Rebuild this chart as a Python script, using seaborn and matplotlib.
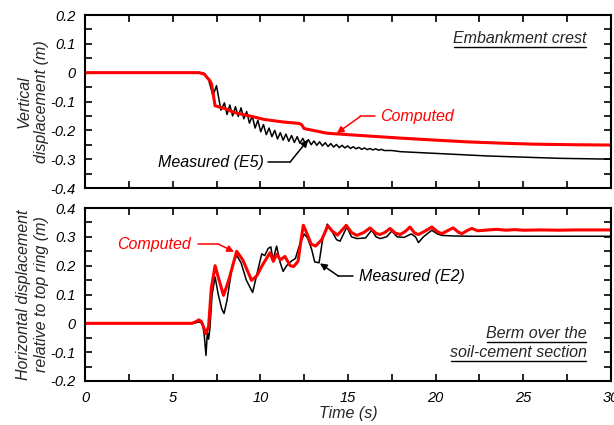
import numpy as np
import matplotlib
matplotlib.use("Agg")
import matplotlib.pyplot as plt
import seaborn as sns
from matplotlib.ticker import MultipleLocator, FuncFormatter

# ==========================================
# DATA
# ==========================================
# Top panel - vertical displacement, embankment crest
t_top_meas = [0.0, 6.7, 6.85, 7.05, 7.3, 7.5, 7.75, 7.95, 8.10, 8.26, 8.42, 8.58, 8.74, 8.90,
              9.06, 9.22, 9.38, 9.54, 9.70, 9.86, 10.02, 10.18, 10.34, 10.50, 10.66, 10.82,
              10.98, 11.14, 11.30, 11.46, 11.62, 11.78, 11.94, 12.10, 12.26, 12.42, 12.58,
              12.74, 12.90, 13.06, 13.22, 13.38, 13.54, 13.70, 13.86, 14.02, 14.18, 14.34,
              14.50, 14.66, 14.82, 14.98, 15.14, 15.30, 15.46, 15.62, 15.78, 15.94, 16.10,
              16.26, 16.42, 16.58, 16.74, 16.90, 17.06, 17.5, 18.0, 19.0, 20.0, 21.0, 22.0,
              23.0, 24.0, 25.0, 26.0, 27.0, 28.0, 29.0, 30.0]
v_top_meas = [0.0, 0.0, -0.005, -0.025, -0.08, -0.045, -0.13, -0.105, -0.145, -0.112, -0.150,
              -0.118, -0.152, -0.122, -0.160, -0.135, -0.175, -0.150, -0.192, -0.165, -0.205,
              -0.180, -0.215, -0.192, -0.222, -0.200, -0.230, -0.208, -0.234, -0.213, -0.238,
              -0.218, -0.242, -0.222, -0.245, -0.228, -0.247, -0.232, -0.250, -0.237, -0.252,
              -0.240, -0.254, -0.243, -0.256, -0.246, -0.258, -0.249, -0.260, -0.252, -0.261,
              -0.254, -0.263, -0.257, -0.264, -0.259, -0.266, -0.261, -0.267, -0.263, -0.268,
              -0.264, -0.269, -0.266, -0.270, -0.270, -0.274, -0.277, -0.280, -0.283, -0.286,
              -0.289, -0.291, -0.293, -0.295, -0.297, -0.298, -0.299, -0.300]

t_top_comp = [0.0, 6.5, 6.8, 7.15, 7.22, 7.42, 7.6, 8.0, 8.5, 9.0, 9.6, 10.2, 10.8, 11.3,
              12.2, 12.35, 12.5, 13.0, 13.8, 15.0, 16.0, 18.0, 20.0, 21.8, 24.0, 25.6, 28.0, 30.0]
v_top_comp = [0.0, 0.0, -0.005, -0.03, -0.04, -0.115, -0.118, -0.125, -0.138, -0.145, -0.153,
              -0.162, -0.167, -0.171, -0.176, -0.180, -0.194, -0.200, -0.210, -0.215, -0.219,
              -0.227, -0.234, -0.240, -0.245, -0.248, -0.250, -0.251]

# Bottom panel - horizontal displacement relative to top ring, berm
t_bot_meas = [0.0, 6.2, 6.5, 6.7, 6.8, 6.9, 6.98, 7.05, 7.12, 7.25, 7.42, 7.6, 7.8, 7.93, 8.1,
              8.4, 8.65, 8.9, 9.2, 9.56, 9.9, 10.08, 10.25, 10.45, 10.6, 10.72, 10.93, 11.12,
              11.3, 11.5, 11.75, 12.0, 12.2, 12.5, 12.7, 12.93, 13.1, 13.35, 13.55, 13.82,
              14.05, 14.35, 14.55, 14.93, 15.2, 15.5, 16.0, 16.35, 16.6, 16.83, 17.2, 17.5,
              17.8, 18.2, 18.6, 18.85, 19.02, 19.3, 19.78, 20.1, 20.35, 21.0, 22.0, 30.0]
v_bot_meas = [0.0, 0.0, 0.005, 0.0, -0.04, -0.111, -0.03, -0.055, -0.02, 0.10, 0.161, 0.10,
              0.05, 0.034, 0.08, 0.20, 0.236, 0.21, 0.15, 0.107, 0.195, 0.241, 0.235, 0.26,
              0.265, 0.22, 0.268, 0.213, 0.18, 0.20, 0.215, 0.225, 0.265, 0.31, 0.295, 0.256,
              0.213, 0.21, 0.29, 0.344, 0.323, 0.29, 0.285, 0.334, 0.30, 0.294, 0.296, 0.323,
              0.30, 0.294, 0.30, 0.32, 0.30, 0.298, 0.31, 0.30, 0.28, 0.30, 0.323, 0.31, 0.305,
              0.303, 0.302, 0.302]

t_bot_comp = [0.0, 6.1, 6.3, 6.5, 6.65, 6.9, 7.05, 7.2, 7.42, 7.6, 7.9, 8.2, 8.65, 9.0, 9.5,
              9.8, 10.1, 10.55, 10.74, 10.93, 11.15, 11.4, 11.7, 11.9, 12.15, 12.3, 12.45,
              12.6, 12.9, 13.15, 13.5, 13.85, 14.1, 14.4, 14.9, 15.2, 15.5, 15.9, 16.26, 16.6,
              16.83, 17.1, 17.4, 17.7, 17.97, 18.25, 18.54, 18.8, 19.02, 19.4, 19.78, 20.1,
              20.35, 20.7, 21.0, 21.3, 21.5, 21.8, 22.06, 22.4, 23.0, 23.5, 24.0, 24.5, 25.0,
              26.0, 27.0, 28.0, 29.0, 30.0]
v_bot_comp = [0.0, 0.0, 0.005, 0.012, 0.005, -0.036, -0.01, 0.12, 0.20, 0.16, 0.097, 0.15,
              0.25, 0.22, 0.149, 0.165, 0.20, 0.245, 0.215, 0.24, 0.22, 0.232, 0.20, 0.197,
              0.215, 0.28, 0.34, 0.32, 0.275, 0.268, 0.29, 0.338, 0.32, 0.306, 0.34, 0.315,
              0.305, 0.315, 0.331, 0.312, 0.308, 0.315, 0.329, 0.313, 0.308, 0.318, 0.334,
              0.313, 0.308, 0.32, 0.334, 0.318, 0.311, 0.322, 0.331, 0.316, 0.311, 0.322,
              0.329, 0.321, 0.324, 0.326, 0.323, 0.325, 0.323, 0.324, 0.323, 0.324, 0.324, 0.324]

# ==========================================
# STYLE
# ==========================================
sns.set_style("ticks")
plt.rcParams['font.family'] = ['Liberation Sans', 'DejaVu Sans']
plt.rcParams['font.style'] = 'italic'
plt.rcParams['axes.unicode_minus'] = False

RED = '#ff0000'
BLACK = '#000000'

fig = plt.figure(figsize=(6.14, 4.25), dpi=100)
W, H = 614.0, 425.0
ax1 = fig.add_axes([85 / W, 1 - 188 / H, 526 / W, 173 / H])
ax2 = fig.add_axes([85 / W, 1 - 381 / H, 526 / W, 173 / H])

fmt = FuncFormatter(lambda v, p: f"{v:g}")

for ax in (ax1, ax2):
    ax.set_xlim(0, 30)
    ax.xaxis.set_major_locator(MultipleLocator(5))
    ax.xaxis.set_minor_locator(MultipleLocator(2.5))
    ax.yaxis.set_major_locator(MultipleLocator(0.1))
    ax.yaxis.set_minor_locator(MultipleLocator(0.05))
    ax.yaxis.set_major_formatter(fmt)
    ax.xaxis.set_major_formatter(fmt)
    ax.tick_params(which='both', direction='in', top=True, right=True, width=1.2,
                   labelsize=10.5, pad=7, colors='black')
    ax.tick_params(which='major', length=5)
    ax.tick_params(which='minor', length=5)
    for s in ax.spines.values():
        s.set_linewidth(1.5)
        s.set_color('black')

ax1.set_ylim(-0.4, 0.2)
ax2.set_ylim(-0.2, 0.4)
ax1.tick_params(labelbottom=False)

# --- Curves ---
sns.lineplot(x=t_top_meas, y=v_top_meas, ax=ax1, color=BLACK, lw=1.1, estimator=None, sort=False)
sns.lineplot(x=t_top_comp, y=v_top_comp, ax=ax1, color=RED, lw=2.2, estimator=None, sort=False)
sns.lineplot(x=t_bot_meas, y=v_bot_meas, ax=ax2, color=BLACK, lw=1.1, estimator=None, sort=False)
sns.lineplot(x=t_bot_comp, y=v_bot_comp, ax=ax2, color=RED, lw=2.2, estimator=None, sort=False)

# --- Labels ---
ax1.set_ylabel("Vertical\ndisplacement (m)", fontsize=11.5, linespacing=1.25)
ax2.set_ylabel("Horizontal displacement\nrelative to top ring (m)", fontsize=11.5, linespacing=1.25)
ax1.yaxis.set_label_coords(-0.068, 0.5)
ax2.yaxis.set_label_coords(-0.068, 0.5)
ax2.set_xlabel("Time (s)", fontsize=11.5, labelpad=1)


# --- Callouts: text, horizontal leader, angled arrow ---
def callout(ax, txt, color, tx, ty, ha, x0, x1, head):
    ax.text(tx, ty, txt, color=color, fontsize=11.5, ha=ha, va='center')
    ax.plot([x0, x1], [ty, ty], color=color, lw=1.1)
    ax.annotate('', xy=head, xytext=(x1, ty),
                arrowprops=dict(arrowstyle='-|>', color=color, lw=1.1,
                                mutation_scale=10, shrinkA=0, shrinkB=0))


callout(ax1, "Measured (E5)", BLACK, 10.2, -0.31, 'right', 10.45, 11.7, (12.72, -0.233))
callout(ax1, "Computed", RED, 16.85, -0.152, 'left', 16.55, 15.7, (14.36, -0.21))
callout(ax2, "Computed", RED, 1.83, 0.275, 'left', 6.45, 7.6, (8.5, 0.248))
callout(ax2, "Measured (E2)", BLACK, 15.6, 0.164, 'left', 15.3, 14.45, (13.4, 0.208))

# --- Underlined panel titles ---
titles = [
    ax1.text(0.954, 0.867, "Embankment crest", transform=ax1.transAxes, ha='right',
             va='center', fontsize=11.5),
    ax2.text(0.954, 0.277, "Berm over the", transform=ax2.transAxes, ha='right',
             va='center', fontsize=11.5),
    ax2.text(0.954, 0.162, "soil-cement section", transform=ax2.transAxes, ha='right',
             va='center', fontsize=11.5),
]
fig.canvas.draw()
renderer = fig.canvas.get_renderer()
for t in titles:
    bb = t.get_window_extent(renderer)
    inv = fig.transFigure.inverted()
    (fx0, fy0), (fx1, fy1) = inv.transform([(bb.x0 + 1, bb.y0 - 1), (bb.x1 - 1, bb.y0 - 1)])
    fig.add_artist(plt.Line2D([fx0, fx1], [fy0, fy1], color='black', lw=1.0,
                              transform=fig.transFigure))

fig.savefig("out.png", dpi=100)
